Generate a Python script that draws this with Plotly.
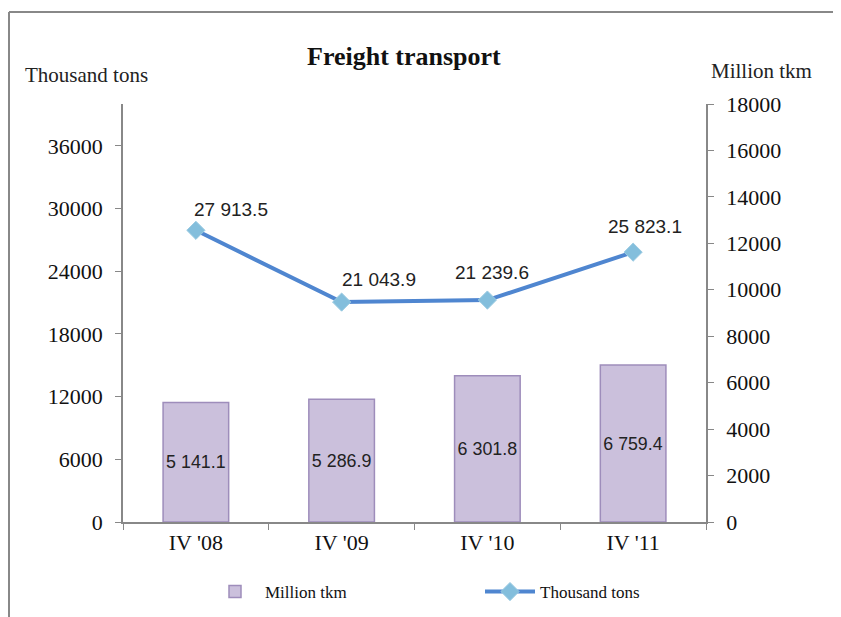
import plotly.graph_objects as go

categories = ["IV '08", "IV '09", "IV '10", "IV '11"]
million_tkm = [5141.1, 5286.9, 6301.8, 6759.4]
thousand_tons = [27913.5, 21043.9, 21239.6, 25823.1]
left_ticks = [0, 6000, 12000, 18000, 24000, 30000, 36000]
right_ticks = [0, 2000, 4000, 6000, 8000, 10000, 12000, 14000, 16000, 18000]

# label offsets (pixels) for the line's data labels
label_dx = [35, 37, 5, 12]
label_dy = [21, 23, 28, 26]


def fmt(v):
    return f"{v:,.1f}".replace(",", " ")


OFF = 8  # page body margin
W, H = 841 - OFF, 617 - OFF
L, R, T, B = 123 - OFF, 706 - OFF, 104 - OFF, 522 - OFF


def px(x):
    return (x - OFF - L) / (R - L)


def py(y):
    return (B - (y - OFF)) / (B - T)


label_font = dict(family="Liberation Sans Narrow, Liberation Sans", size=19, color="#222")
serif = "Liberation Serif, Times New Roman, serif"

fig = go.Figure()
fig.add_trace(go.Bar(
    x=categories, y=million_tkm, name="Million tkm", yaxis="y2",
    marker=dict(color="#CBC0DC", line=dict(color="#9E8DBB", width=1.5)),
    width=0.45,
    text=[fmt(v) for v in million_tkm], textposition="inside",
    insidetextanchor="middle", textangle=0,
    textfont=label_font,
    cliponaxis=False, legend="legend",
))
fig.add_trace(go.Scatter(
    x=categories, y=thousand_tons, name="Thousand tons", yaxis="y",
    mode="lines+markers",
    line=dict(color="#4F86D0", width=4),
    marker=dict(symbol="diamond", size=14, color="#83BEDC", line=dict(color="#9CCBE2", width=1)),
    cliponaxis=False, legend="legend2",
))

axis_font = dict(family=serif, size=22, color="#111")
legend_font = dict(family=serif, size=17, color="#111")

annotations = [
    dict(text="<b>Freight transport</b>", xref="paper", yref="paper",
         x=px(404), y=py(57), xanchor="center", yanchor="middle",
         showarrow=False, font=dict(family=serif, size=26, color="#111")),
    dict(text="Thousand tons", xref="paper", yref="paper",
         x=px(86), y=py(75), xanchor="center", yanchor="middle",
         showarrow=False, font=dict(family=serif, size=21, color="#222")),
    dict(text="Million tkm", xref="paper", yref="paper",
         x=px(761), y=py(71), xanchor="center", yanchor="middle",
         showarrow=False, font=dict(family=serif, size=21, color="#222")),
]
for c, v, dx, dy in zip(categories, thousand_tons, label_dx, label_dy):
    annotations.append(dict(
        text=fmt(v), xref="x", yref="y", x=c, y=v,
        xshift=dx, yshift=dy, xanchor="center", yanchor="middle",
        showarrow=False, font=label_font,
    ))

fig.update_layout(
    width=W, height=H,
    margin=dict(l=L, r=W - R, t=T, b=H - B, autoexpand=False),
    paper_bgcolor="white", plot_bgcolor="white",
    xaxis=dict(
        showline=True, linecolor="#888", linewidth=1.5,
        ticks="outside", tickson="boundaries", ticklen=6, tickcolor="#888",
        tickfont=axis_font, showgrid=False, zeroline=False,
    ),
    yaxis=dict(
        range=[0, 40000], tickvals=left_ticks, tickformat="d",
        showline=True, linecolor="#888", linewidth=1.5,
        ticks="outside", ticklen=6, tickcolor="#888",
        tickfont=axis_font, showgrid=False, zeroline=False,
        ticklabelstandoff=8,
    ),
    yaxis2=dict(
        range=[0, 18000], tickvals=right_ticks, tickformat="d",
        overlaying="y", side="right",
        showline=True, linecolor="#888", linewidth=1.5,
        ticks="outside", ticklen=6, tickcolor="#888",
        tickfont=axis_font, showgrid=False, zeroline=False,
        ticklabelstandoff=8,
    ),
    showlegend=True,
    legend=dict(
        orientation="h", x=px(205), xanchor="left",
        y=py(592), yanchor="middle", itemwidth=50,
        font=legend_font, bgcolor="rgba(0,0,0,0)",
    ),
    legend2=dict(
        orientation="h", x=px(480), xanchor="left",
        y=py(592), yanchor="middle", itemwidth=50,
        font=legend_font, bgcolor="rgba(0,0,0,0)",
    ),
    annotations=annotations,
    shapes=[
        dict(type="line", xref="paper", yref="paper",
             x0=px(9), x1=px(860), y0=py(12), y1=py(12),
             line=dict(color="#888", width=2)),
        dict(type="line", xref="paper", yref="paper",
             x0=px(9), x1=px(9), y0=py(12), y1=py(640),
             line=dict(color="#888", width=2)),
    ],
)

fig.write_html("out.html")
